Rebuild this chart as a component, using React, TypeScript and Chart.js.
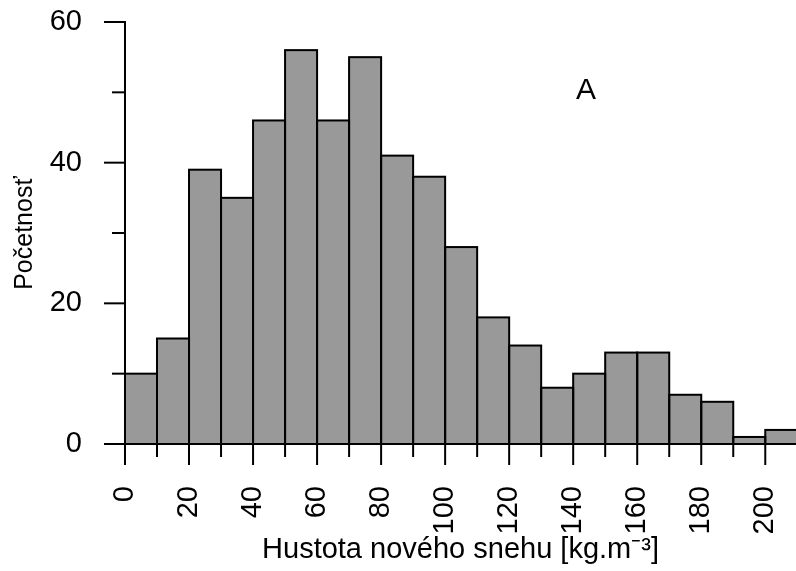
import React, { useEffect, useRef } from "react";
import { Chart, registerables } from "chart.js";

Chart.register(...registerables);

// ---- data ----
const binStarts = [0, 10, 20, 30, 40, 50, 60, 70, 80, 90, 100, 110, 120, 130, 140, 150, 160, 170, 180, 190, 200];
const binWidth = 10;
const counts = [10, 15, 39, 35, 46, 56, 46, 55, 41, 38, 28, 18, 14, 8, 10, 13, 13, 7, 6, 1, 2];
const xMajorTicks = [0, 20, 40, 60, 80, 100, 120, 140, 160, 180, 200];
const xMinorTicks = [10, 30, 50, 70, 90, 110, 130, 150, 170, 190];
const yMajorTicks = [0, 20, 40, 60];
const yMinorTicks = [10, 30, 50];
const xTitle = "Hustota nového snehu [kg.m⁻³]";
const yTitle = "Početnosť";
const panelLabel = "A";
const panelLabelPos = { x: 144, y: 49 };
const xMin = 0;
const xMax = 209.6;
const yMin = 0;
const yMax = 60;

const FONT = '"Liberation Sans", Arial, Helvetica, sans-serif';

const decorPlugin = {
  id: "rDecor",
  afterDatasetsDraw(chart: any) {
    const ctx = chart.ctx;
    const meta = chart.getDatasetMeta(0);
    ctx.save();
    ctx.strokeStyle = "#000";
    ctx.lineWidth = 2;
    meta.data.forEach((el: any) => {
      const { x, y, base, width } = el.getProps(["x", "y", "base", "width"], true);
      ctx.strokeRect(x - width / 2, y, width, base - y);
    });
    ctx.restore();
  },
  afterDraw(chart: any) {
    const ctx = chart.ctx;
    const { left, bottom } = chart.chartArea;
    const xs = chart.scales.x;
    const ys = chart.scales.y;
    ctx.save();
    ctx.strokeStyle = "#000";
    ctx.lineWidth = 2;
    const xt = (v: number, len: number) => {
      const px = xs.getPixelForValue(v);
      ctx.beginPath();
      ctx.moveTo(px, bottom);
      ctx.lineTo(px, bottom + len);
      ctx.stroke();
    };
    const yt = (v: number, len: number) => {
      const py = ys.getPixelForValue(v);
      ctx.beginPath();
      ctx.moveTo(left, py);
      ctx.lineTo(left - len, py);
      ctx.stroke();
    };
    xMajorTicks.forEach((v) => xt(v, 21));
    xMinorTicks.forEach((v) => xt(v, 13));
    yMajorTicks.forEach((v) => yt(v, 21));
    yMinorTicks.forEach((v) => yt(v, 13));
    ctx.fillStyle = "#000";
    ctx.font = `30px ${FONT}`;
    ctx.textAlign = "center";
    ctx.textBaseline = "alphabetic";
    ctx.fillText(panelLabel, xs.getPixelForValue(panelLabelPos.x), ys.getPixelForValue(panelLabelPos.y));
    ctx.restore();
  },
};

export default function App() {
  const ref = useRef<HTMLCanvasElement | null>(null);

  useEffect(() => {
    if (!ref.current) return;
    const data = binStarts.map((s, i) => ({ x: s + binWidth / 2, y: counts[i] }));
    const chart = new Chart(ref.current, {
      type: "bar",
      data: {
        datasets: [
          {
            data,
            backgroundColor: "#999999",
            borderWidth: 0,
            barPercentage: 1,
            categoryPercentage: 1,
          } as any,
        ],
      },
      options: {
        responsive: false,
        animation: false,
        layout: { padding: { top: 22, right: 0, bottom: 0, left: 0 } },
        plugins: {
          legend: { display: false },
          tooltip: { enabled: false },
        },
        scales: {
          x: {
            type: "linear",
            min: xMin,
            max: xMax,
            offset: false,
            grid: { display: false, drawTicks: false },
            border: { display: false },
            afterBuildTicks: (s: any) => {
              s.ticks = xMajorTicks.map((v) => ({ value: v }));
            },
            ticks: {
              autoSkip: false,
              minRotation: 90,
              maxRotation: 90,
              padding: 42,
              color: "#000",
              font: { size: 29, family: FONT },
              callback: (v: any) => String(v),
            },
            title: {
              display: true,
              text: xTitle,
              color: "#000",
              font: { size: 29, family: FONT },
              padding: { top: 0, bottom: 4 },
            },
            afterFit: (s: any) => {
              s.height = 127;
              s.paddingLeft = 0;
              s.paddingRight = 0;
            },
          } as any,
          y: {
            min: yMin,
            max: yMax,
            grid: { display: false, drawTicks: false },
            border: { display: true, color: "#000", width: 2 },
            afterBuildTicks: (s: any) => {
              s.ticks = yMajorTicks.map((v) => ({ value: v }));
            },
            ticks: {
              padding: 43,
              color: "#000",
              font: { size: 29, family: FONT },
            },
            title: {
              display: true,
              text: yTitle,
              color: "#000",
              font: { size: 25, family: FONT },
              padding: { top: 10, bottom: 0 },
            },
            afterFit: (s: any) => {
              s.width = 125;
              s.paddingTop = 0;
              s.paddingBottom = 0;
            },
          } as any,
        },
      },
      plugins: [decorPlugin],
    });
    return () => chart.destroy();
  }, []);

  return (
    <div style={{ position: "fixed", left: 0, top: 0, width: 796, height: 571, background: "#fff" }}>
      <canvas ref={ref} width={796} height={571} style={{ display: "block" }} />
    </div>
  );
}
